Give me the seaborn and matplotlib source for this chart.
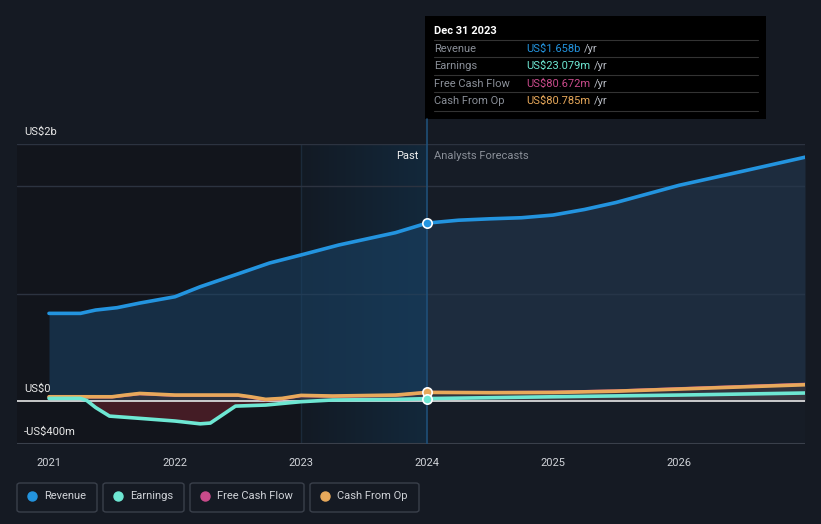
import matplotlib
matplotlib.use("Agg")
import matplotlib.pyplot as plt
import seaborn as sns
import numpy as np
from matplotlib.patches import Rectangle, FancyBboxPatch
from matplotlib.colors import LinearSegmentedColormap

# ---- data (US$ millions) ----
rev_x = [2021.0, 2021.25, 2021.37, 2021.54, 2021.72, 2022.0, 2022.2, 2022.52, 2022.75,
         2023.0, 2023.3, 2023.75, 2024.0, 2024.25, 2024.5, 2024.75, 2025.0, 2025.25,
         2025.5, 2025.75, 2026.0, 2026.5, 2027.0]
rev_y = [817, 817, 848, 870, 913, 972, 1065, 1193, 1286,
         1361, 1454, 1569, 1658, 1685, 1698, 1708, 1733, 1785,
         1850, 1930, 2010, 2140, 2272]

earn_x = [2021.0, 2021.25, 2021.3, 2021.37, 2021.48, 2021.72, 2022.0, 2022.2, 2022.28,
          2022.35, 2022.48, 2022.72, 2023.0, 2023.25, 2023.75, 2024.0, 2025.0, 2026.0, 2027.0]
earn_y = [25, 25, 5, -60, -140, -161, -186, -212, -205,
          -150, -47, -37, -6, 10, 15, 23, 40, 56, 75]

cfo_x = [2021.0, 2021.5, 2021.6, 2021.72, 2022.0, 2022.5, 2022.6, 2022.72, 2022.85, 2023.0,
         2023.25, 2023.75, 2024.0, 2024.5, 2025.0, 2025.5, 2026.0, 2026.5, 2027.0]
cfo_y = [40, 40, 55, 71, 56, 56, 40, 16, 25, 53,
         47, 56, 80.8, 78, 80, 92, 112, 132, 152]

fcf_x = [2021.0, 2021.5, 2021.6, 2021.72, 2022.0, 2022.5, 2022.6, 2022.72, 2022.85, 2023.0,
         2023.25, 2023.75, 2024.0, 2024.5, 2025.0, 2025.5, 2026.0, 2026.5, 2027.0]
fcf_y = [38, 38, 52, 68, 53, 53, 36, 12, 22, 50,
         44, 53, 80.7, 80, 83, 95, 116, 136, 157]

year_ticks = [2021, 2022, 2023, 2024, 2025, 2026]
legend_labels = ["Revenue", "Earnings", "Free Cash Flow", "Cash From Op"]
tooltip_rows = [("Revenue", "US$1.658b"), ("Earnings", "US$23.079m"),
                ("Free Cash Flow", "US$80.672m"), ("Cash From Op", "US$80.785m")]

C_REV = "#2394df"
C_EARN = "#6ee7d3"
C_FCF = "#c94b8b"
C_CFO = "#e8a95b"
BG = "#151a23"

sns.set_theme(style="dark")
plt.rcParams['font.family'] = ['Roboto', 'DejaVu Sans']

W, H = 821, 524
fig = plt.figure(figsize=(W / 100, H / 100), dpi=100, facecolor=BG)

def fx(px):
    return px / W

def fy(py):
    return 1 - py / H

ax = fig.add_axes([fx(17), fy(444), fx(805) - fx(17), fy(144) - fy(444)])
ax.set_facecolor("#161c26")
XMIN, XMAX = 2020.746, 2027.0
YMIN, YMAX = -400, 2395
ax.set_xlim(XMIN, XMAX)
ax.set_ylim(YMIN, YMAX)

# background regions
ax.axvspan(XMIN, 2023.0, color="#12151c", zorder=0, lw=0)
grad_cmap = LinearSegmentedColormap.from_list("g", ["#131a24", "#12283b"])
ax.imshow(np.linspace(0, 1, 64).reshape(1, -1), cmap=grad_cmap, aspect="auto",
          extent=(2023.0, 2024.0, YMIN, YMAX), zorder=0.5, interpolation="bilinear")
ax.set_xlim(XMIN, XMAX)
ax.set_ylim(YMIN, YMAX)
ax.axvline(2023.0, color="#1b2a3a", lw=1, zorder=1)

# gridlines
for yv in [1000, 2000, YMAX]:
    ax.axhline(yv, color="#2c3340", lw=1, zorder=1)
ax.axhline(YMIN, color="#3a404b", lw=1.5, zorder=1)

# revenue fill
rx = np.array(rev_x); ry = np.array(rev_y)
past = rx <= 2024.0
ax.fill_between(rx[past], 0, ry[past], color="#1a4468", alpha=0.55, lw=0, zorder=2)
ax.fill_between(rx[rx >= 2024.0], 0, ry[rx >= 2024.0], color="#23384f", alpha=0.6, lw=0, zorder=2)

# earnings negative fill
ex = np.array(earn_x); ey = np.array(earn_y)
ax.fill_between(ex, 0, ey, where=ey < 0, interpolate=True, color="#5a1f2a", alpha=0.7, lw=0, zorder=2)
ax.fill_between(ex, 0, ey, where=ey >= 0, interpolate=True, color="#3a4450", alpha=0.5, lw=0, zorder=2)
cx = np.array(cfo_x); cy = np.array(cfo_y)
ax.fill_between(cx, 0, cy, color="#4a3a3a", alpha=0.45, lw=0, zorder=2)

# zero line
ax.axhline(0, color="#e6e6e6", lw=1.2, zorder=3)

# lines
sns.lineplot(x=rev_x, y=rev_y, color=C_REV, lw=2.6, ax=ax, zorder=5)
sns.lineplot(x=fcf_x, y=fcf_y, color=C_FCF, lw=2.2, ax=ax, zorder=4)
sns.lineplot(x=cfo_x, y=cfo_y, color=C_CFO, lw=2.6, ax=ax, zorder=5)
sns.lineplot(x=earn_x, y=earn_y, color=C_EARN, lw=2.6, ax=ax, zorder=5)

# vertical marker line
ax.axvline(2024.0, color="#1f4f78", lw=1.2, zorder=3)

# markers at Dec 31 2023
ax.scatter([2024.0], [rev_y[rev_x.index(2024.0)]], s=45, color=C_REV, edgecolor="white", lw=1.2, zorder=7)
ax.scatter([2024.0], [cfo_y[cfo_x.index(2024.0)]], s=45, color=C_CFO, edgecolor="white", lw=1.2, zorder=7)
ax.scatter([2024.0], [earn_y[earn_x.index(2024.0)]], s=45, color=C_EARN, edgecolor="white", lw=1.2, zorder=7)

# axes styling
ax.set_xticks(year_ticks)
ax.set_xticklabels([str(y) for y in year_ticks], color="#d0d3d8", fontsize=8)
ax.tick_params(axis="x", length=4, color="#3a404b", pad=6, width=1)
ax.set_yticks([])
ax.grid(False)
for s in ax.spines.values():
    s.set_visible(False)
ax.set_xlabel(""); ax.set_ylabel("")

# y labels
fig.text(fx(24), fy(132), "US$2b", color="#e8e8e8", fontsize=8, va="center", ha="left")
fig.text(fx(24), fy(389), "US$0", color="#e8e8e8", fontsize=8, va="center", ha="left")
fig.text(fx(24), fy(432), "-US$400m", color="#e8e8e8", fontsize=8, va="center", ha="left")

# Past / forecast labels
fig.text(fx(418), fy(156), "Past", color="#f0f0f0", fontsize=8, va="center", ha="right")
fig.text(fx(434), fy(156), "Analysts Forecasts", color="#8a8f98", fontsize=8, va="center", ha="left")

# vertical line from tooltip down to axis top
fig.add_artist(plt.Line2D([fx(427), fx(427)], [fy(119), fy(144)], color="#1f4f78", lw=1.2))

# tooltip
fig.add_artist(Rectangle((fx(425), fy(119)), fx(766) - fx(425), fy(16) - fy(119),
                         facecolor="#000000", edgecolor="none"))
fig.text(fx(434), fy(31), "Dec 31 2023", color="#ffffff", fontsize=8, va="center", ha="left", fontweight="bold")
row_y = [49, 66, 84, 101]
vcols = [C_REV, C_EARN, C_FCF, C_CFO]
renderer = fig.canvas.get_renderer()
for (lab, val), yy, col in zip(tooltip_rows, row_y, vcols):
    fig.add_artist(plt.Line2D([fx(434), fx(758)], [fy(yy - 9), fy(yy - 9)], color="#333333", lw=0.8))
    fig.text(fx(434), fy(yy), lab, color="#8a8f98", fontsize=8, va="center", ha="left")
    t = fig.text(fx(526), fy(yy), val, color=col, fontsize=8, va="center", ha="left")
    bb = t.get_window_extent(renderer)
    fig.text(fx(bb.x1 + 4), fy(yy), "/yr", color="#b8bcc4", fontsize=8, va="center", ha="left")
fig.add_artist(plt.Line2D([fx(434), fx(758)], [fy(111), fy(111)], color="#333333", lw=0.8))

# legend boxes
boxes = [(17, 97), (103, 184), (190, 304), (310, 419)]
for (x0, x1), lab, col in zip(boxes, legend_labels, vcols):
    fig.add_artist(FancyBboxPatch((fx(x0), fy(512)), fx(x1) - fx(x0), fy(483) - fy(512),
                                  boxstyle="round,pad=0,rounding_size=0.004",
                                  facecolor="none", edgecolor="#3a404b", lw=1))
    fig.add_artist(plt.Line2D([fx(x0 + 15)], [fy(496)], marker="o", markersize=6.5,
                              color=col, markeredgecolor=col, lw=0))
    fig.text(fx(x0 + 27), fy(496), lab, color="#d0d3d8", fontsize=8, va="center", ha="left")

fig.savefig("out.png", dpi=100, facecolor=BG)
